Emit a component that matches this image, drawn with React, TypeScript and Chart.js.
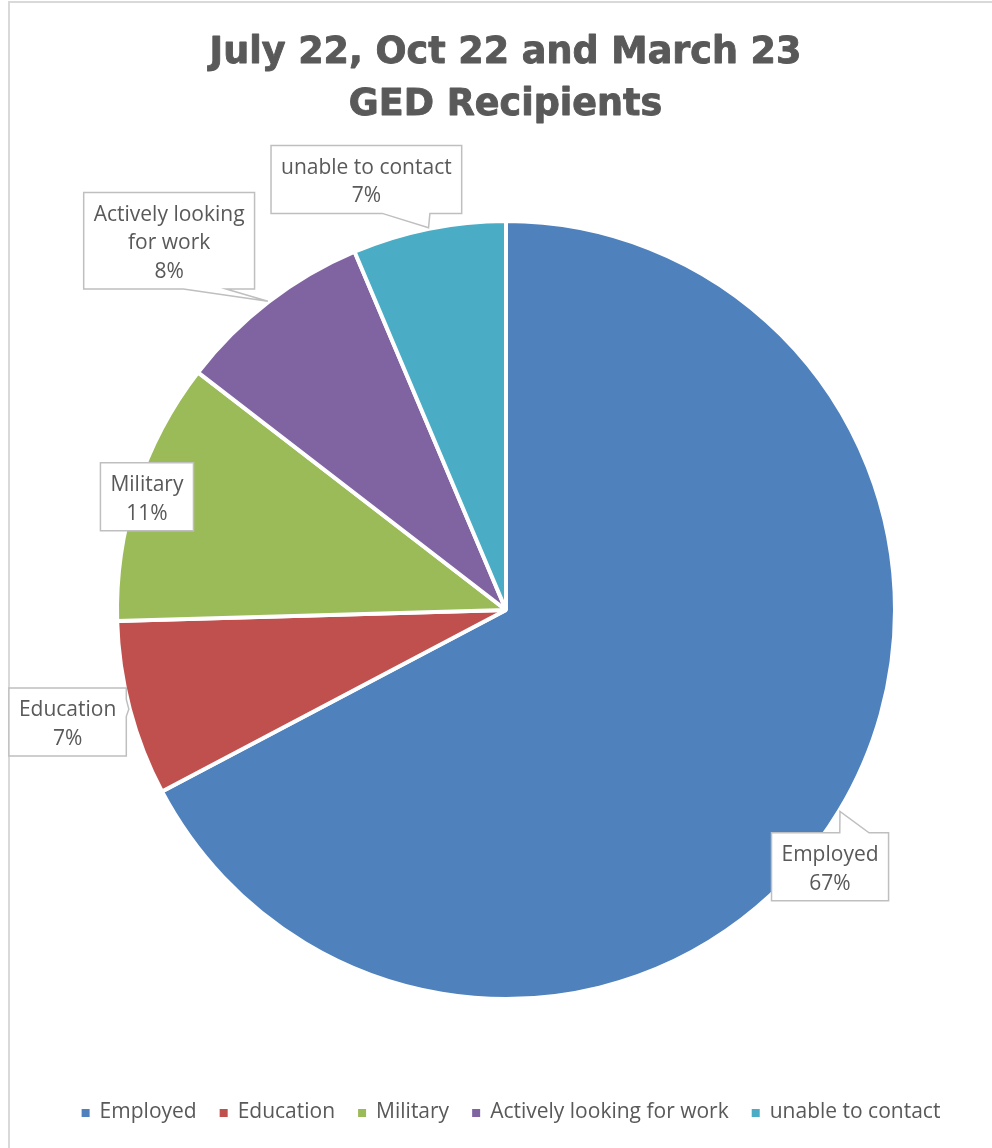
import React, { useEffect, useRef } from "react";
import { Chart, registerables } from "chart.js";

Chart.register(...registerables);

// ---------- data ----------
const TITLE_LINES: string[] = ["July 22, Oct 22 and March 23", "GED Recipients"];
const CATEGORIES: string[] = [
  "Employed",
  "Education",
  "Military",
  "Actively looking for work",
  "unable to contact",
];
const COUNTS: number[] = [74, 8, 12, 9, 7];
const COLORS: string[] = ["#4F81BD", "#C0504D", "#9BBB59", "#8064A2", "#4BACC6"];

// ---------- styles ----------
const TEXT_COLOR = "#595959";
const LABEL_FONT = '21px "Open Sans"';
const TITLE_FONT = 'bold 36.5px "DejaVu Sans"';
const LABEL_LINE_H = 28.5;
const LABEL_PAD_X = 10;
const LABEL_WRAP = 180;
// label box centres relative to the pie centre, in units of the outer radius
const LABEL_POS: [number, number][] = [
  [0.833, 0.66],
  [-1.127, 0.288],
  [-0.923, -0.291],
  [-0.866, -0.949],
  [-0.359, -1.107],
];

function roundedPercents(values: number[]): number[] {
  const total = values.reduce((a, b) => a + b, 0);
  const raw = values.map((v) => (v / total) * 100);
  const fl = raw.map((r) => Math.floor(r));
  let rest = 100 - fl.reduce((a, b) => a + b, 0);
  const order = raw
    .map((r, i) => ({ i, rem: r - Math.floor(r) }))
    .sort((a, b) => b.rem - a.rem);
  for (let k = 0; k < order.length && rest > 0; k++, rest--) fl[order[k].i] += 1;
  return fl;
}

function wrap(ctx: CanvasRenderingContext2D, text: string, maxW: number): string[] {
  const words = text.split(" ");
  const lines: string[] = [];
  let cur = "";
  for (const w of words) {
    const t = cur ? cur + " " + w : w;
    if (cur && ctx.measureText(t).width > maxW) {
      lines.push(cur);
      cur = w;
    } else cur = t;
  }
  if (cur) lines.push(cur);
  return lines;
}

function callout(
  ctx: CanvasRenderingContext2D,
  l: number,
  t: number,
  w: number,
  h: number,
  tx: number,
  ty: number
) {
  const r = l + w;
  const b = t + h;
  const hc = l + w / 2;
  const vc = t + h / 2;
  const dx = tx - hc;
  const dy = ty - vc;
  ctx.beginPath();
  if (tx >= l && tx <= r && ty >= t && ty <= b) {
    ctx.rect(l, t, w, h);
  } else {
    const dq = (dx * h) / w;
    const dz = Math.abs(dy) - Math.abs(dq);
    const x1 = l + (w * (dx > 0 ? 7 : 2)) / 12;
    const x2 = l + (w * (dx > 0 ? 10 : 5)) / 12;
    const y1 = t + (h * (dy > 0 ? 7 : 2)) / 12;
    const y2 = t + (h * (dy > 0 ? 10 : 5)) / 12;
    ctx.moveTo(l, t);
    if (dz > 0 && dy < 0) {
      ctx.lineTo(x1, t);
      ctx.lineTo(tx, ty);
      ctx.lineTo(x2, t);
    }
    ctx.lineTo(r, t);
    if (dz <= 0 && dx > 0) {
      ctx.lineTo(r, y1);
      ctx.lineTo(tx, ty);
      ctx.lineTo(r, y2);
    }
    ctx.lineTo(r, b);
    if (dz > 0 && dy > 0) {
      ctx.lineTo(x2, b);
      ctx.lineTo(tx, ty);
      ctx.lineTo(x1, b);
    }
    ctx.lineTo(l, b);
    if (dz <= 0 && dx < 0) {
      ctx.lineTo(l, y2);
      ctx.lineTo(tx, ty);
      ctx.lineTo(l, y1);
    }
    ctx.closePath();
  }
  ctx.fillStyle = "#ffffff";
  ctx.fill();
  ctx.lineWidth = 1.5;
  ctx.strokeStyle = "#BFBFBF";
  ctx.stroke();
}

const labelPlugin = {
  id: "calloutLabels",
  afterDatasetsDraw(chart: any) {
    const ctx: CanvasRenderingContext2D = chart.ctx;
    const meta = chart.getDatasetMeta(0);
    const values: number[] = chart.data.datasets[0].data;
    const pcts = roundedPercents(values);
    ctx.save();
    ctx.font = LABEL_FONT;
    meta.data.forEach((arc: any, i: number) => {
      const R = arc.outerRadius;
      const mid = (arc.startAngle + arc.endAngle) / 2;
      const tx = arc.x + Math.cos(mid) * (R + 1);
      const ty = arc.y + Math.sin(mid) * (R + 1);
      const lines = [...wrap(ctx, chart.data.labels[i], LABEL_WRAP), pcts[i] + "%"];
      const tw = Math.max(...lines.map((s) => ctx.measureText(s).width));
      const w = tw + LABEL_PAD_X * 2;
      const h = lines.length * LABEL_LINE_H + 11;
      const cx = arc.x + LABEL_POS[i][0] * R;
      const cy = arc.y + LABEL_POS[i][1] * R;
      const l = cx - w / 2;
      const t = cy - h / 2;
      callout(ctx, l, t, w, h, tx, ty);
      ctx.fillStyle = TEXT_COLOR;
      ctx.textAlign = "center";
      ctx.textBaseline = "alphabetic";
      lines.forEach((s, k) => {
        ctx.fillText(s, cx, t + 28.3 + k * LABEL_LINE_H);
      });
    });
    ctx.restore();
  },
  afterDraw(chart: any) {
    const ctx: CanvasRenderingContext2D = chart.ctx;
    ctx.save();
    // title
    ctx.font = TITLE_FONT;
    ctx.fillStyle = TEXT_COLOR;
    ctx.strokeStyle = TEXT_COLOR;
    ctx.lineWidth = 0.9;
    ctx.lineJoin = "round";
    ctx.textAlign = "center";
    ctx.textBaseline = "alphabetic";
    TITLE_LINES.forEach((s, k) => {
      ctx.fillText(s, 505.5, 63 + k * 52);
      ctx.strokeText(s, 505.5, 63 + k * 52);
    });
    // legend
    ctx.font = LABEL_FONT;
    const labels: string[] = chart.data.labels;
    const colors: string[] = chart.data.datasets[0].backgroundColor;
    const box = 8;
    const gapText = 10;
    const gapItem = 23;
    const widths = labels.map((s) => box + gapText + ctx.measureText(s).width);
    const total = widths.reduce((a, b) => a + b, 0) + gapItem * (labels.length - 1);
    let x = 511 - total / 2;
    ctx.textAlign = "left";
    labels.forEach((s, i) => {
      ctx.fillStyle = colors[i];
      ctx.fillRect(x, 1109, box, box);
      ctx.fillStyle = TEXT_COLOR;
      ctx.fillText(s, x + box + gapText, 1118);
      x += widths[i] + gapItem;
    });
    ctx.restore();
  },
};

export default function App() {
  const ref = useRef<HTMLCanvasElement | null>(null);
  useEffect(() => {
    if (!ref.current) return;
    const chart = new Chart(ref.current, {
      type: "pie",
      data: {
        labels: CATEGORIES,
        datasets: [
          {
            data: COUNTS,
            backgroundColor: COLORS,
            borderColor: "#ffffff",
            borderWidth: 4,
          },
        ],
      },
      options: {
        responsive: false,
        animation: false,
        events: [],
        layout: { padding: { left: 115, right: 95, top: 219, bottom: 147 } },
        plugins: {
          legend: { display: false },
          title: { display: false },
          tooltip: { enabled: false },
        },
      },
      plugins: [labelPlugin],
    });
    return () => chart.destroy();
  }, []);

  return (
    <div
      style={{
        position: "absolute",
        left: 0,
        top: 0,
        width: 992,
        height: 1148,
        overflow: "hidden",
        background: "#ffffff",
      }}
    >
      <div
        style={{
          position: "absolute",
          left: 8,
          top: 1,
          width: 1100,
          height: 1400,
          border: "2px solid #D9D9D9",
          boxSizing: "border-box",
        }}
      />
      <canvas
        ref={ref}
        width={992}
        height={1148}
        style={{ position: "absolute", left: 0, top: 0, width: 992, height: 1148 }}
      />
    </div>
  );
}
